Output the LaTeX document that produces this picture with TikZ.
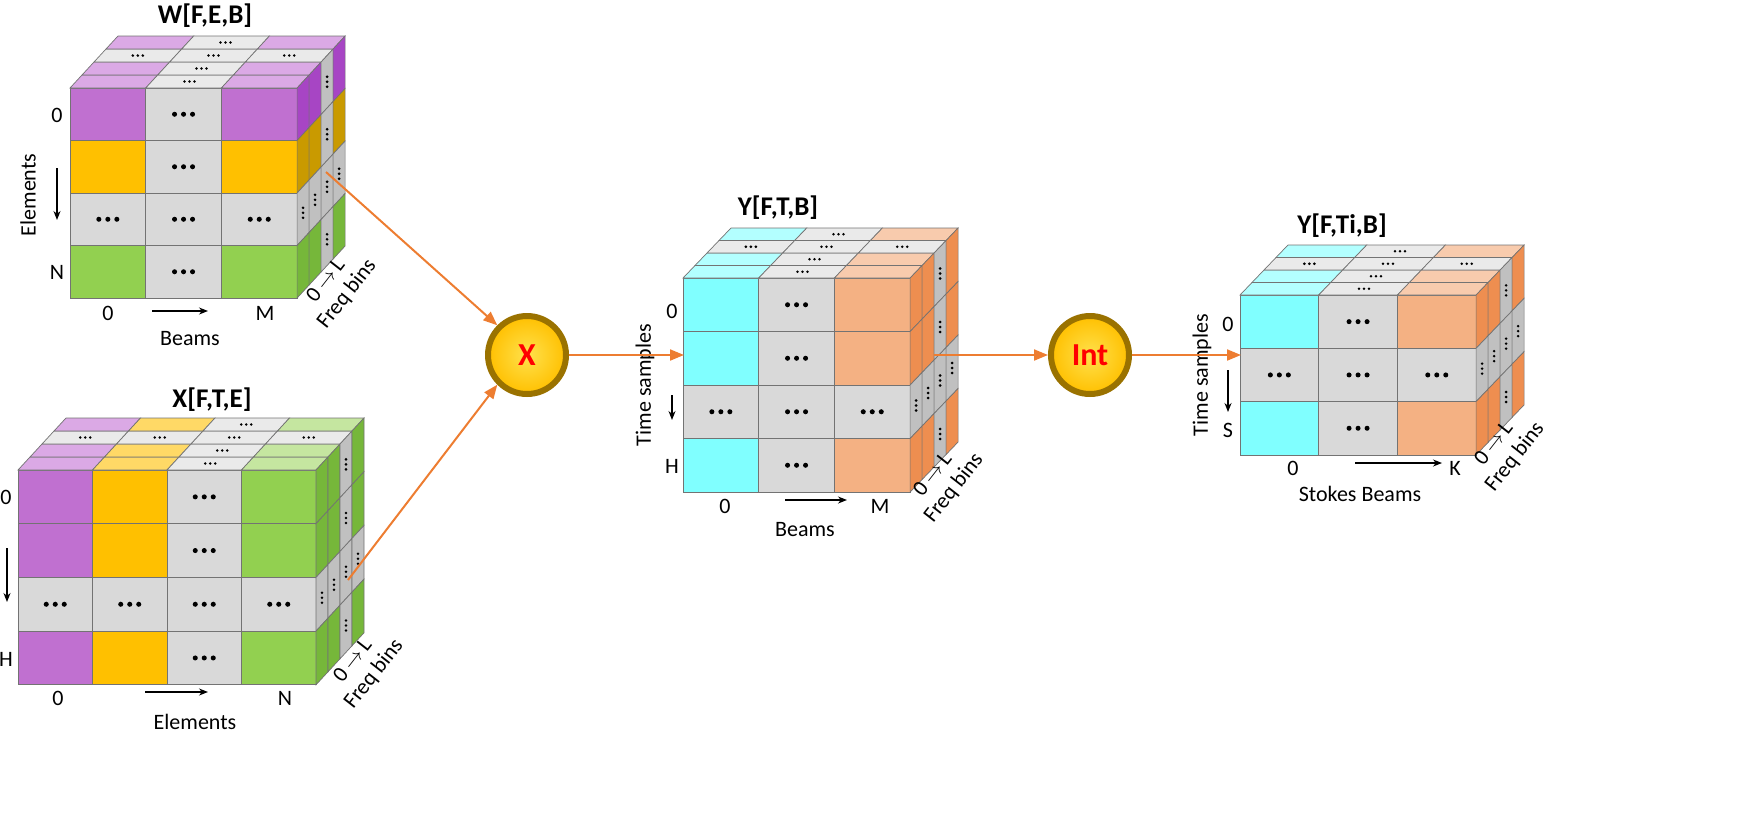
\documentclass[tikz,border=0pt]{standalone}
\usepackage{fontspec}
\setmainfont{Carlito}
\usetikzlibrary{arrows.meta}
\definecolor{wp}{HTML}{C070D0}\definecolor{wpS}{HTML}{A745C4}\definecolor{wpT}{HTML}{DBA9E5}
\definecolor{wo}{HTML}{FFC000}\definecolor{woS}{HTML}{C99A00}\definecolor{woT}{HTML}{FFD966}
\definecolor{wg}{HTML}{92D050}\definecolor{wgS}{HTML}{76B73A}\definecolor{wgT}{HTML}{C5E6A0}
\definecolor{cy}{HTML}{80FFFF}\definecolor{cyS}{HTML}{50D0D0}\definecolor{cyT}{HTML}{B3FFFF}
\definecolor{sa}{HTML}{F4B183}\definecolor{saS}{HTML}{EE8E50}\definecolor{saT}{HTML}{F8CBAD}
\definecolor{gr}{HTML}{D9D9D9}\definecolor{grS}{HTML}{C0C0C0}\definecolor{grT}{HTML}{EAEAEA}
\definecolor{arr}{HTML}{ED7D31}
\definecolor{goldA}{HTML}{FFE14D}\definecolor{goldB}{HTML}{9A7200}
\ExplSyntaxOn
\cs_new:Npn \cubecol #1#2 {\clist_item:nn{#1}{#2}}
\ExplSyntaxOff
\def\grname{gr}
\newcommand\myhdots[3]{\foreach \q in {-1,0,1}{\fill ({#1+\q*#3},{#2}) circle ({#3*0.28});}}
\newcommand\myvdots[3]{\foreach \q in {-1,0,1}{\fill ({#1},{#2+\q*#3}) circle ({#3*0.28});}}
% x0,y0,ncols,nrows,w,h,colors,ddx,ddy
\newcommand\drawcube[9]{%
 \pgfmathtruncatemacro\nc{#3-1}\pgfmathtruncatemacro\nr{#4-1}%
 \foreach \r in {0,...,\nr}{\foreach \c in {0,...,\nc}{%
   \pgfmathtruncatemacro\idx{\r*#3+\c+1}%
   \edef\cc{\cubecol{#7}{\idx}}%
   \filldraw[fill=\cc,draw=black!55,line width=0.7pt] ({#1+\c*#5},{#2+\r*#6}) rectangle ++(#5,#6);
   \ifx\cc\grname \myhdots{#1+(\c+0.5)*#5}{#2+(\r+0.5)*#6}{9}\fi
 }}%
 \foreach \k in {0,...,3}{\foreach \c in {0,...,\nc}{%
   \pgfmathtruncatemacro\idx{\c+1}%
   \edef\cc{\cubecol{#7}{\idx}}%
   \ifnum\k=2 \def\cc{gr}\fi
   \filldraw[fill=\cc T,draw=black!55,line width=0.7pt]
     ({#1+\c*#5+\k*#8},{#2-\k*#9}) -- ({#1+(\c+1)*#5+\k*#8},{#2-\k*#9}) --
     ({#1+(\c+1)*#5+(\k+1)*#8},{#2-(\k+1)*#9}) -- ({#1+\c*#5+(\k+1)*#8},{#2-(\k+1)*#9}) -- cycle;
   \ifx\cc\grname \myhdots{#1+(\c+0.5)*#5+(\k+0.5)*#8}{#2-(\k+0.5)*#9}{5}\fi
 }}%
 \foreach \k in {0,...,3}{\foreach \r in {0,...,\nr}{%
   \pgfmathtruncatemacro\idx{\r*#3+#3}%
   \edef\cc{\cubecol{#7}{\idx}}%
   \ifnum\k=2 \def\cc{gr}\fi
   \filldraw[fill=\cc S,draw=black!55,line width=0.7pt]
     ({#1+#3*#5+\k*#8},{#2+\r*#6-\k*#9}) -- ({#1+#3*#5+(\k+1)*#8},{#2+\r*#6-(\k+1)*#9}) --
     ({#1+#3*#5+(\k+1)*#8},{#2+(\r+1)*#6-(\k+1)*#9}) -- ({#1+#3*#5+\k*#8},{#2+(\r+1)*#6-\k*#9}) -- cycle;
   \ifx\cc\grname \myvdots{#1+#3*#5+(\k+0.5)*#8}{#2+(\r+0.5)*#6-(\k+0.5)*#9}{5}\fi
 }}%
}
\tikzset{lab/.style={font=\fontsize{22}{26}\selectfont,inner sep=0pt},
 ttl/.style={font=\fontsize{27}{30}\selectfont\bfseries,inner sep=0pt},
 freq/.style={font=\fontsize{22}{24}\selectfont,inner sep=0pt,rotate=52},
 darr/.style={-{Stealth[length=9pt,width=7pt]},line width=1.3pt},
 oarr/.style={arr,line width=2pt,-{Triangle[length=14pt,width=11pt]}},
 ball/.style={circle,minimum size=78pt,inner sep=0pt,draw=goldB,line width=6pt,
   inner color=goldA,outer color=wo,font=\fontsize{32}{34}\selectfont\bfseries,text=red}}
\newcommand\freqlab[3]{%
 \node[freq] (#1a) at (#2,#3) {0\,$\rightarrow$\,L};
 \node[freq] (#1b) at ({#2+22},{#3+14}) {Freq bins};}
\begin{document}
\begin{tikzpicture}[x=1pt,y=-1pt]
\useasboundingbox (0,0) rectangle (1750,817);
% W
\drawcube{70}{88}{3}{4}{75.7}{52.5}{wp,gr,wp,wo,gr,wo,gr,gr,gr,wg,gr,wg}{12}{13}
\node[ttl] (tW) at (205,16) {W[F,E,B]};
\node[lab] (w0) at (57,115) {0};
\node[lab] (wN) at (57,272) {N};
\node[lab,rotate=90] (wE) at (28,195) {Elements};
\coordinate (wa1) at (57,168); \coordinate (wa2) at (57,220);
\draw[darr] (wa1) -- (wa2);
\node[lab] (wb0) at (108,313) {0};
\node[lab] (wbM) at (265,313) {M};
\node[lab] (wbB) at (190,339) {Beams};
\coordinate (wb1) at (152,311); \coordinate (wb2) at (208,311);
\draw[darr] (wb1) -- (wb2);
\freqlab{wf}{325}{280}
% X
\drawcube{18}{470}{4}{4}{74.5}{53.7}{wp,wo,gr,wg,wp,wo,gr,wg,gr,gr,gr,gr,wp,wo,gr,wg}{12}{13}
\node[ttl] (tX) at (212,400) {X[F,T,E]};
\node[lab] (x0) at (6,497) {0};
\node[lab] (xH) at (6,659) {H};
\coordinate (xa1) at (7,548); \coordinate (xa2) at (7,602);
\draw[darr] (xa1) -- (xa2);
\node[lab] (xb0) at (58,698) {0};
\node[lab] (xbN) at (285,698) {N};
\node[lab] (xbE) at (195,722) {Elements};
\coordinate (xb1) at (145,692); \coordinate (xb2) at (208,692);
\draw[darr] (xb1) -- (xb2);
\freqlab{xf}{352}{660}
% Y
\drawcube{683}{278}{3}{4}{75.7}{53.5}{cy,gr,sa,cy,gr,sa,gr,gr,gr,cy,gr,sa}{12}{12.5}
\node[ttl] (tY) at (778,208) {Y[F,T,B]};
\node[lab] (y0) at (672,311) {0};
\node[lab] (yH) at (672,466) {H};
\node[lab,rotate=90] (yT) at (645,385) {Time samples};
\coordinate (ya1) at (672,395); \coordinate (ya2) at (672,420);
\draw[darr] (ya1) -- (ya2);
\node[lab] (yb0) at (725,506) {0};
\node[lab] (ybM) at (880,506) {M};
\node[lab] (ybB) at (805,530) {Beams};
\coordinate (yb1) at (785,500); \coordinate (yb2) at (847,500);
\draw[darr] (yb1) -- (yb2);
\freqlab{yf}{932}{474}
% Y2
\drawcube{1240}{295}{3}{3}{78.7}{53.3}{cy,gr,sa,gr,gr,gr,cy,gr,sa}{12}{12.5}
\node[ttl] (tY2) at (1342,226) {Y[F,Ti,B]};
\node[lab] (z0) at (1228,324) {0};
\node[lab] (zS) at (1228,430) {S};
\node[lab,rotate=90] (zT) at (1202,375) {Time samples};
\coordinate (za1) at (1228,370); \coordinate (za2) at (1228,412);
\draw[darr] (za1) -- (za2);
\node[lab] (zb0) at (1293,468) {0};
\node[lab] (zbK) at (1455,468) {K};
\node[lab] (zbB) at (1360,494) {Stokes Beams};
\coordinate (zb1) at (1355,463); \coordinate (zb2) at (1442,463);
\draw[darr] (zb1) -- (zb2);
\freqlab{zf}{1493}{443}
% operators
\node[ball] (mul) at (527,355) {X};
\node[ball] (int) at (1090,355) {Int};
\coordinate (sW) at (326,172);
\coordinate (sX) at (348,580);
\coordinate (eY) at (684,355);
\coordinate (sY) at (934,355);
\coordinate (eZ) at (1241,355);
\draw[oarr] (sW) -- (mul.135);
\draw[oarr] (sX) -- (mul.225);
\draw[oarr] (mul.east) -- (eY);
\draw[oarr] (sY) -- (int.west);
\draw[oarr] (int.east) -- (eZ);
\end{tikzpicture}
\end{document}
